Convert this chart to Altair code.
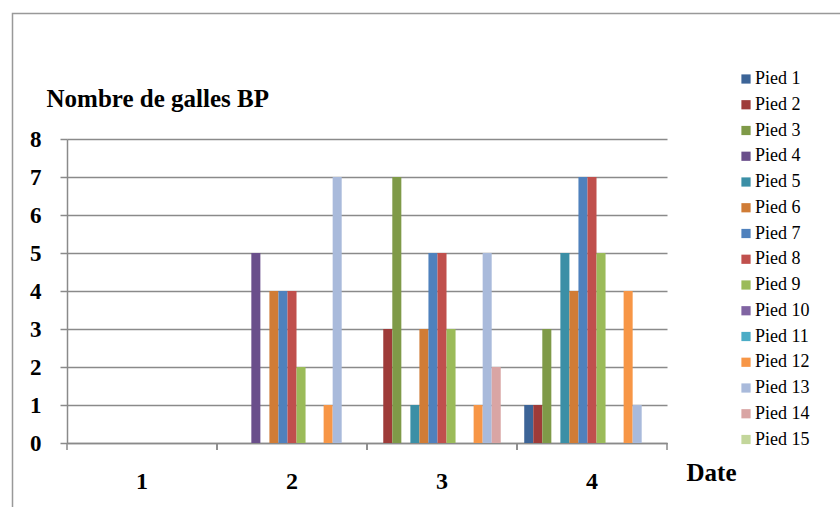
import altair as alt
import pandas as pd

dates = ["1", "2", "3", "4"]
pieds = [f"Pied {i}" for i in range(1, 16)]
values = {
    "Pied 1": [0, 0, 0, 1],
    "Pied 2": [0, 0, 3, 1],
    "Pied 3": [0, 0, 7, 3],
    "Pied 4": [0, 5, 0, 0],
    "Pied 5": [0, 0, 1, 5],
    "Pied 6": [0, 4, 3, 4],
    "Pied 7": [0, 4, 5, 7],
    "Pied 8": [0, 4, 5, 7],
    "Pied 9": [0, 2, 3, 5],
    "Pied 10": [0, 0, 0, 0],
    "Pied 11": [0, 0, 0, 0],
    "Pied 12": [0, 1, 1, 4],
    "Pied 13": [0, 7, 5, 1],
    "Pied 14": [0, 0, 2, 0],
    "Pied 15": [0, 0, 0, 0],
}
colors = ["#3C6497", "#9E3B39", "#7F9A48", "#6A4F8B", "#3B8FA6", "#D07C36",
          "#4F81BD", "#C0504D", "#9BBB59", "#8064A2", "#4BACC6", "#F79646",
          "#A9BADB", "#D9A5A4", "#C3D69B"]
y_ticks = [0, 1, 2, 3, 4, 5, 6, 7, 8]

rows = []
for p in pieds:
    for d, v in zip(dates, values[p]):
        rows.append({"date": d, "pied": p, "value": v})
df = pd.DataFrame(rows)
df_dates = pd.DataFrame({"date": dates})

SERIF = "Liberation Serif"
GRID = "#8A8A8A"
W, H = 600, 304

x_scale = alt.Scale(domain=dates, paddingInner=0, paddingOuter=0)

bars = alt.Chart(df).transform_filter("datum.value > 0").mark_bar(strokeWidth=0).encode(
    x=alt.X("date:N", scale=x_scale, sort=dates,
            axis=alt.Axis(title="Date", labelAngle=0, ticks=False, tickSize=0,
                          labelFont=SERIF, labelFontSize=24, labelFontWeight="bold",
                          labelColor="black", labelBaseline="middle", labelPadding=38,
                          domainColor=GRID, domainWidth=1.5,
                          titleFont=SERIF, titleFontSize=25, titleFontWeight="bold",
                          titleColor="black", titleAngle=0, titleAlign="center",
                          titleBaseline="alphabetic", titleX=644, titleY=37)),
    xOffset=alt.XOffset("pied:N", sort=pieds,
                        scale=alt.Scale(domain=pieds, paddingInner=0, paddingOuter=0.8)),
    y=alt.Y("value:Q", scale=alt.Scale(domain=[0, 8], nice=False),
            axis=alt.Axis(values=y_ticks, title="Nombre de galles BP", format="d",
                          grid=True, gridColor=GRID, gridWidth=1.5,
                          domainColor=GRID, domainWidth=1.5,
                          tickColor=GRID, tickSize=7, tickWidth=1.5,
                          labelFont=SERIF, labelFontSize=23, labelFontWeight="bold",
                          labelColor="black", labelPadding=19,
                          titleFont=SERIF, titleFontSize=25, titleFontWeight="bold",
                          titleColor="black", titleAngle=0, titleAlign="left",
                          titleBaseline="alphabetic", titleX=-21, titleY=-33)),
    color=alt.Color("pied:N", sort=pieds,
                    scale=alt.Scale(domain=pieds, range=colors),
                    legend=alt.Legend(title=None, orient="none", legendX=670, legendY=-69,
                                      symbolType="square", symbolSize=85, symbolStrokeWidth=0,
                                      labelFont=SERIF, labelFontSize=18, labelColor="black",
                                      labelOffset=0, rowPadding=7.75, padding=0)),
)

ticks_left = alt.Chart(df_dates).mark_rule(color=GRID, strokeWidth=1.5).encode(
    x=alt.X("date:N", scale=x_scale, sort=dates, bandPosition=0),
    y=alt.value(H), y2=alt.value(H + 7),
)
ticks_right = alt.Chart(df_dates).mark_rule(color=GRID, strokeWidth=1.5).encode(
    x=alt.X("date:N", scale=x_scale, sort=dates, bandPosition=1),
    y=alt.value(H), y2=alt.value(H + 7),
)

border = alt.Chart(pd.DataFrame({"k": [0]})).mark_rect(
    fill=None, stroke="#999999", strokeWidth=1.5
).encode(
    x=alt.value(-54.5), x2=alt.value(790), y=alt.value(-125.5), y2=alt.value(380)
)

chart = alt.layer(border, bars, ticks_left, ticks_right).properties(
    width=W, height=H,
    autosize=alt.AutoSizeParams(type="none"),
    padding={"left": 67, "top": 139, "right": 173, "bottom": 64},
    background="white",
).configure_view(stroke=None)

chart.save("out.html", embed_options={"renderer": "svg", "actions": False})
